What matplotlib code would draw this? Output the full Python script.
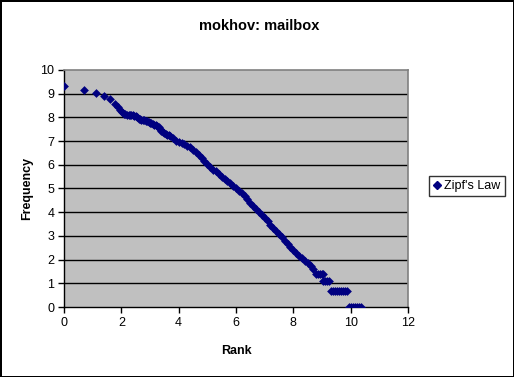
import matplotlib
matplotlib.use("Agg")
import matplotlib.pyplot as plt
from matplotlib.lines import Line2D

plt.rcParams["font.family"] = ["Liberation Sans", "DejaVu Sans"]

# log(rank) vs log(frequency)
log_rank = [
    0.0, 0.69, 1.10, 1.39, 1.61, 1.79, 1.87, 1.95, 2.02, 2.08, 2.14, 2.2, 2.25,
    2.3, 2.35, 2.4, 2.45, 2.5, 2.55, 2.6, 2.65, 2.7, 2.75, 2.8, 2.85, 2.9, 2.95,
    3.0, 3.05, 3.1, 3.15, 3.2, 3.25, 3.3, 3.35, 3.4, 3.45, 3.5, 3.55, 3.6, 3.65,
    3.7, 3.8, 3.9,
    4.0, 4.1, 4.2, 4.3, 4.4, 4.5, 4.6, 4.7, 4.8, 4.9, 5.0, 5.1, 5.2, 5.3,
    5.4, 5.5, 5.6, 5.7, 5.8, 5.9, 6.0, 6.1, 6.2, 6.3, 6.4, 6.5, 6.6, 6.7,
    6.8, 6.9, 7.0, 7.1, 7.2, 7.3, 7.4, 7.5, 7.6, 7.7, 7.8, 7.9, 8.0, 8.1,
    8.2, 8.3, 8.4, 8.5, 8.6, 8.7,
    8.8, 8.87, 8.94, 9.0, 9.05,
    9.05, 9.12, 9.19, 9.25,
    9.3, 9.37, 9.44, 9.51, 9.58, 9.65, 9.72, 9.79, 9.86,
    9.95, 10.02, 10.09, 10.16, 10.23, 10.3, 10.35,
]
log_freq = [
    9.32, 9.14, 9.02, 8.9, 8.77, 8.55, 8.43, 8.32, 8.22, 8.15, 8.13, 8.12, 8.12,
    8.12, 8.11, 8.1, 8.08, 8.05, 8.0, 7.95, 7.92, 7.9, 7.89, 7.88, 7.86, 7.85, 7.82,
    7.78, 7.75, 7.72, 7.7, 7.68, 7.65, 7.6, 7.5, 7.42, 7.37, 7.33, 7.3, 7.27, 7.24,
    7.2, 7.12, 7.02,
    6.95, 6.9, 6.86, 6.8, 6.73, 6.63, 6.52, 6.4, 6.28, 6.15, 6.05, 5.9, 5.8, 5.72,
    5.62, 5.5, 5.4, 5.33, 5.23, 5.12, 5.0, 4.88, 4.8, 4.7, 4.55, 4.38, 4.25, 4.12,
    4.0, 3.88, 3.76, 3.62, 3.48, 3.34, 3.2, 3.07, 2.94, 2.8, 2.67, 2.53, 2.4, 2.28,
    2.15, 2.05, 1.95, 1.85, 1.72, 1.62,
    1.386, 1.386, 1.386, 1.386, 1.386,
    1.099, 1.099, 1.099, 1.099,
    0.693, 0.693, 0.693, 0.693, 0.693, 0.693, 0.693, 0.693, 0.693,
    0.0, 0.0, 0.0, 0.0, 0.0, 0.0, 0.0,
]

navy = "#000080"

fig = plt.figure(figsize=(5.14, 3.77), dpi=100)
fig.patch.set_edgecolor("black")
fig.patch.set_linewidth(2)

ax = fig.add_axes([64 / 514, 70 / 377, 344 / 514, 237 / 377])
ax.set_facecolor("#C0C0C0")
ax.scatter(log_rank, log_freq, marker="D", s=20, color=navy, linewidths=0, zorder=3)

ax.set_xlim(0, 12)
ax.set_ylim(0, 10)
ax.set_xticks(range(0, 13, 2))
ax.set_yticks(range(0, 11))
for y in range(1, 10):
    ax.axhline(y, color="black", linewidth=1, zorder=1)

for s in ["left", "bottom"]:
    ax.spines[s].set_color("black")
    ax.spines[s].set_linewidth(1)
for s in ["top", "right"]:
    ax.spines[s].set_color("#808080")
    ax.spines[s].set_linewidth(1.2)

ax.tick_params(axis="both", direction="out", length=4, width=1, labelsize=9, pad=3)
ax.set_xlabel("Rank", fontsize=9, fontweight="bold", labelpad=12)
ax.set_ylabel("Frequency", fontsize=9, fontweight="bold", labelpad=5)
fig.text(259 / 514, 1 - 26 / 377, "mokhov: mailbox", ha="center", va="center",
         fontsize=10.5, fontweight="bold")

handle = Line2D([], [], marker="D", linestyle="none", color=navy, markersize=4)
leg = fig.legend([handle], ["Zipf's Law"], loc="center", bbox_to_anchor=(467 / 514, 1 - 186 / 377),
                 fontsize=9, frameon=True, fancybox=False, handlelength=0.6,
                 handletextpad=0.3, borderpad=0.35, borderaxespad=0)
leg.get_frame().set_edgecolor("black")
leg.get_frame().set_linewidth(1)

fig.savefig("out.png", dpi=100)
